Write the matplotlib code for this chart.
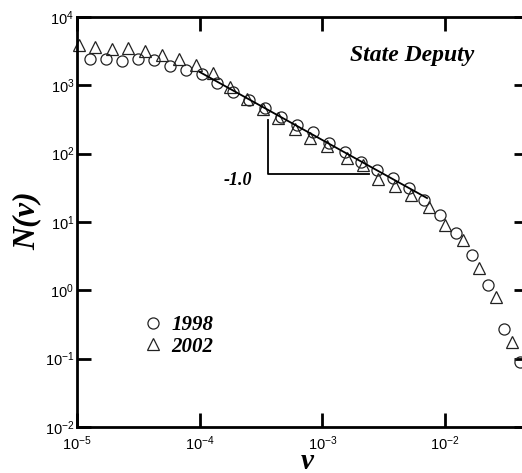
import numpy as np
import matplotlib
matplotlib.use("Agg")
import matplotlib.pyplot as plt

# values
v_1998 = [1.28e-5, 1.72e-5, 2.32e-5, 3.13e-5, 4.22e-5, 5.69e-5, 7.67e-5,
          1.035e-4, 1.39e-4, 1.88e-4, 2.54e-4, 3.42e-4, 4.61e-4, 6.21e-4,
          8.38e-4, 1.13e-3, 1.52e-3, 2.06e-3, 2.77e-3, 3.73e-3, 5.04e-3,
          6.79e-3, 9.16e-3, 1.23e-2, 1.66e-2, 2.24e-2, 3.03e-2, 4.08e-2]
N_1998 = [2430, 2430, 2270, 2430, 2340, 1920, 1670,
          1460, 1080, 798, 610, 466, 344, 262,
          207, 143, 105, 75.3, 57.5, 44.0, 31.3,
          20.9, 12.6, 6.87, 3.27, 1.19, 0.270, 0.089]

v_2002 = [1.04e-5, 1.40e-5, 1.93e-5, 2.61e-5, 3.58e-5, 4.93e-5, 6.78e-5,
          9.33e-5, 1.28e-4, 1.77e-4, 2.43e-4, 3.28e-4, 4.35e-4, 5.98e-4,
          7.92e-4, 1.09e-3, 1.58e-3, 2.14e-3, 2.84e-3, 3.91e-3, 5.27e-3,
          7.40e-3, 9.98e-3, 1.40e-2, 1.89e-2, 2.59e-2, 3.51e-2]
N_2002 = [3890, 3640, 3400, 3520, 3180, 2780, 2430,
          1980, 1510, 944, 629, 450, 332, 229,
          169, 129, 86.3, 68.1, 42.5, 33.6, 24.8,
          16.5, 9.02, 5.43, 2.11, 0.794, 0.175]

# power-law fit with slope -1
fit_v = [1.0e-4, 7.13e-3]
fit_N = [1567, 22.4]

# slope guide (vertical + horizontal leg)
guide_v = [3.6e-4, 3.6e-4, 2.4e-3]
guide_N = [311, 50.2, 50.2]
slope_label = "-1.0"

plt.rcParams["mathtext.fontset"] = "custom"
plt.rcParams["mathtext.rm"] = "Liberation Sans"
plt.rcParams["mathtext.it"] = "Liberation Sans:italic"
plt.rcParams["mathtext.bf"] = "Liberation Sans:bold"

serif = dict(family="Liberation Serif", weight="bold", style="italic")

fig = plt.figure(figsize=(5.22, 4.73), dpi=100)
ax = fig.add_axes([77 / 522, 1 - 427 / 473, 451 / 522, 410 / 473])

ax.plot(v_1998, N_1998, "o", ms=8, mfc="none", mec="#222222", mew=0.9,
        label="1998", clip_on=False)
ax.plot(v_2002, N_2002, "^", ms=8, mfc="none", mec="#222222", mew=0.9,
        label="2002", clip_on=False)
ax.plot(fit_v, fit_N, "-", color="black", lw=1.3)
ax.plot(guide_v, guide_N, "-", color="black", lw=1.3)
ax.text(2.05e-4, 41, slope_label, ha="center", va="center", fontsize=13, **serif)

ax.text((412 - 77) / 451, (427 - 56) / 410, "State Deputy", transform=ax.transAxes,
        ha="center", va="center", fontsize=17, **serif)

ax.set_xscale("log")
ax.set_yscale("log")
ax.set_xlim(1e-5, 10 ** -1.324)
ax.set_ylim(1e-2, 1e4)
ax.set_xticks([1e-5, 1e-4, 1e-3, 1e-2])
ax.set_yticks([1e-2, 1e-1, 1e0, 1e1, 1e2, 1e3, 1e4])
ax.minorticks_off()
ax.tick_params(which="major", direction="in", length=10, width=2,
               top=True, right=True, labelsize=10.5, pad=2)
ax.tick_params(axis="x", pad=5)
for lab in ax.get_xticklabels() + ax.get_yticklabels():
    lab.set_fontfamily("Liberation Sans")
for s in ax.spines.values():
    s.set_linewidth(2)

ax.set_xlabel("v", fontsize=21, **serif)
ax.set_ylabel("N(v)", fontsize=23, **serif)
ax.xaxis.set_label_coords((307 - 77) / 451, (427 - 461) / 410)
ax.xaxis.label.set_va("center")
ax.yaxis.set_label_coords((27 - 77) / 451, (427 - 221) / 410)
ax.yaxis.label.set_va("center")

leg = ax.legend(loc="center left", bbox_to_anchor=((132 - 77) / 451, (427 - 336) / 410),
                frameon=False, handlelength=1.0, handletextpad=0.4,
                labelspacing=0.05, borderpad=0, prop=dict(size=15, **serif))

fig.savefig("out.png", dpi=100)
